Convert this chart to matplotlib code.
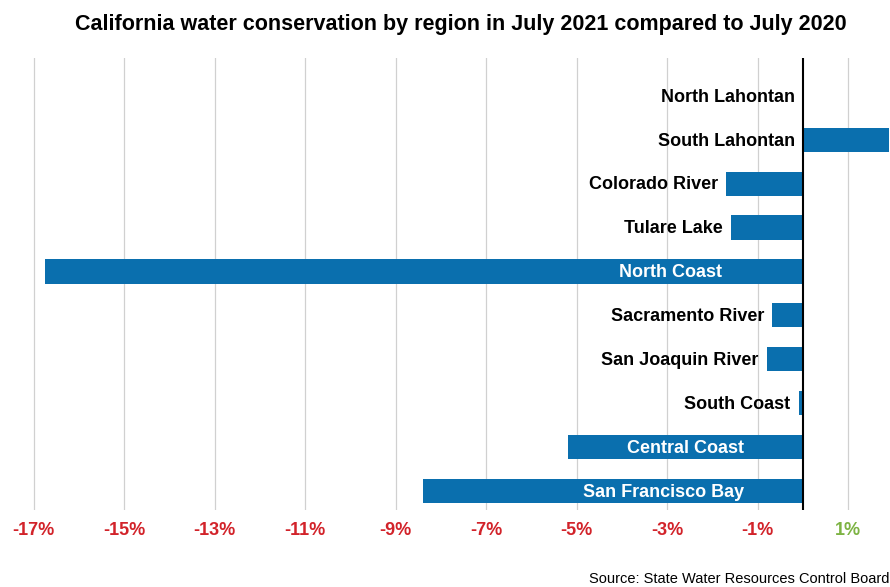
import matplotlib.pyplot as plt

plt.rcParams['font.family'] = ['Liberation Sans', 'DejaVu Sans']

# datos (cambio en %, julio 2021 vs julio 2020)
regiones = ["North Lahontan", "South Lahontan", "Colorado River", "Tulare Lake",
            "North Coast", "Sacramento River", "San Joaquin River", "South Coast",
            "Central Coast", "San Francisco Bay"]
cambio = [0.0, 1.9, -1.7, -1.6, -16.75, -0.68, -0.8, -0.1, -5.2, -8.4]
ticks = [-17, -15, -13, -11, -9, -7, -5, -3, -1, 1]
tick_labels = ["-17%", "-15%", "-13%", "-11%", "-9%", "-7%", "-5%", "-3%", "-1%", "1%"]

azul = "#0a6fae"
rojo = "#d2232a"
verde = "#7db343"

fig = plt.figure(figsize=(8.9, 5.87), dpi=100)
ax = fig.add_axes([0.0225, 0.1312, 0.9764, 0.77])

pos = list(range(len(regiones)))
ax.barh(pos, cambio, height=0.55, color=azul, zorder=2)

# etiquetas: dentro de la barra (blanco) si es larga, si no a la izquierda
for i, (r, v) in enumerate(zip(regiones, cambio)):
    if v < -4:
        x_fin = -1.8 if v < -12 else -1.3
        ax.text(x_fin, i + 0.03, r, ha="right", va="center", color="white",
                fontsize=13, fontweight="bold", zorder=3)
    else:
        x_fin = min(v, 0) - 0.18
        ax.text(x_fin, i + 0.03, r, ha="right", va="center", color="black",
                fontsize=13, fontweight="bold", zorder=3)

ax.axvline(0, color="black", lw=1.5, zorder=4)
ax.set_xlim(-17.3, 1.9)
ax.set_ylim(9.43, -0.86)

ax.set_xticks(ticks)
ax.set_xticklabels(tick_labels)
for t, lab in zip(ticks, ax.get_xticklabels()):
    lab.set_color(verde if t > 0 else rojo)
    lab.set_fontsize(13)
    lab.set_fontweight("bold")
ax.tick_params(axis="x", length=0, pad=9)
ax.set_yticks([])
ax.grid(axis="x", color="#d0d0d0", lw=0.9, zorder=0)
for s in ax.spines.values():
    s.set_visible(False)

fig.text(0.518, 0.959, "California water conservation by region in July 2021 compared to July 2020",
         ha="center", va="center", fontsize=15.5, fontweight="bold")
fig.text(0.999, 0.014, "Source: State Water Resources Control Board",
         ha="right", va="center", fontsize=10.5)

plt.savefig("out.png")
